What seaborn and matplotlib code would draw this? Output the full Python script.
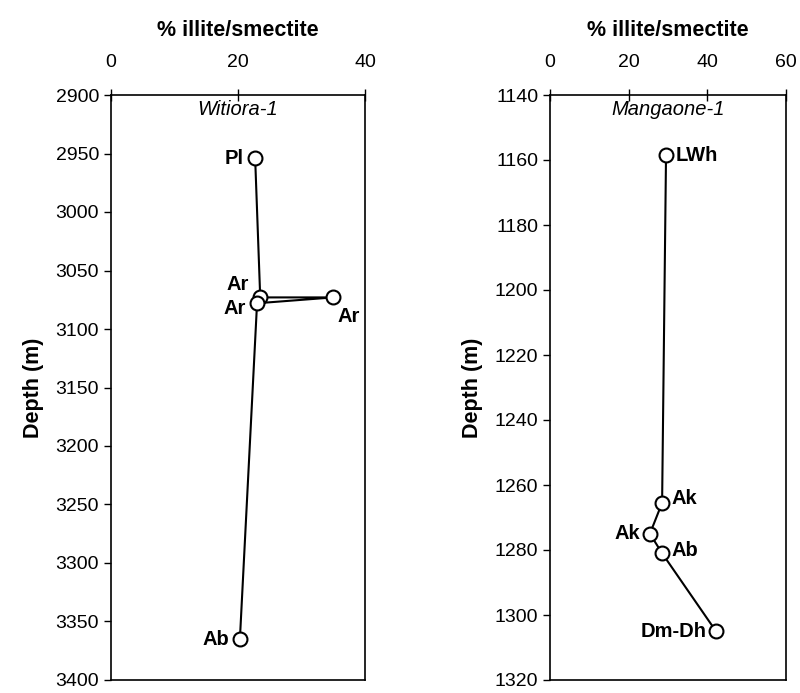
import pandas as pd
import numpy as np
import matplotlib
matplotlib.use("Agg")
import matplotlib.pyplot as plt
import seaborn as sns

# Witiora-1 samples, in the order they are joined
wit_illite = [22.7, 23.5, 35.0, 23.0, 20.3]
wit_depth = [2954, 3073, 3073, 3078, 3365]
wit_labels = ["Pl", "Ar", "Ar", "Ar", "Ab"]

# Mangaone-1 samples
man_illite = [29.5, 28.5, 25.4, 28.5, 42.2]
man_depth = [1158.5, 1265.5, 1275, 1281, 1305]
man_labels = ["LWh", "Ak", "Ak", "Ab", "Dm-Dh"]

sns.set_style("ticks")
plt.rcParams['font.family'] = ['Liberation Sans', 'DejaVu Sans']
plt.rcParams['text.color'] = 'black'
plt.rcParams['axes.labelcolor'] = 'black'
plt.rcParams['xtick.color'] = 'black'
plt.rcParams['ytick.color'] = 'black'

fig = plt.figure(figsize=(8, 6.93), dpi=100)
ax1 = fig.add_axes([111/800, 13/693, 254/800, 585/693])
ax2 = fig.add_axes([550/800, 13/693, 236/800, 585/693])


def draw(ax, xs, ys, labels, offsets, xlim, xticks, ylim, yticks, well):
    df = pd.DataFrame({"illite": xs, "depth": ys})
    sns.lineplot(data=df, x="illite", y="depth", sort=False, estimator=None,
                 color="black", lw=1.5, marker="o", markersize=10,
                 markerfacecolor="white", markeredgecolor="black",
                 markeredgewidth=1.5, ax=ax)
    for x, y, lab, (dx, dy, ha) in zip(xs, ys, labels, offsets):
        ax.annotate(lab, (x, y), xytext=(dx, dy), textcoords="offset points",
                    ha=ha, va="center", fontsize=14.5, fontweight="bold")
    ax.set_xlim(*xlim)
    ax.set_ylim(ylim[1], ylim[0])
    ax.set_xticks(xticks)
    ax.set_yticks(yticks)
    ax.xaxis.tick_top()
    ax.xaxis.set_label_position("top")
    ax.set_xlabel("% illite/smectite", fontsize=15.5, fontweight="bold", labelpad=13)
    ax.set_ylabel("Depth (m)", fontsize=15.5, fontweight="bold", labelpad=8)
    ax.tick_params(axis="x", direction="inout", length=8, width=1, labelsize=14, pad=13)
    ax.tick_params(axis="y", direction="out", length=5, width=1, labelsize=14)
    for s in ax.spines.values():
        s.set_visible(True)
        s.set_linewidth(1.2)
        s.set_color("black")
    ax.text(0.5, 0.992, well, transform=ax.transAxes, ha="center", va="top",
            fontsize=14.5, fontstyle="italic")


draw(ax1, wit_illite, wit_depth, wit_labels,
     [(-8, 0, "right"), (-8, 9, "right"), (3, -14, "left"), (-8, -4, "right"), (-8, 0, "right")],
     (0, 40), [0, 20, 40], (2900, 3400), np.arange(2900, 3401, 50), "Witiora-1")
draw(ax2, man_illite, man_depth, man_labels,
     [(7, 0, "left"), (7, 3, "left"), (-7, 0, "right"), (7, 2, "left"), (-7, 0, "right")],
     (0, 60), [0, 20, 40, 60], (1140, 1320), np.arange(1140, 1321, 20), "Mangaone-1")

fig.savefig("out.png", dpi=100)
